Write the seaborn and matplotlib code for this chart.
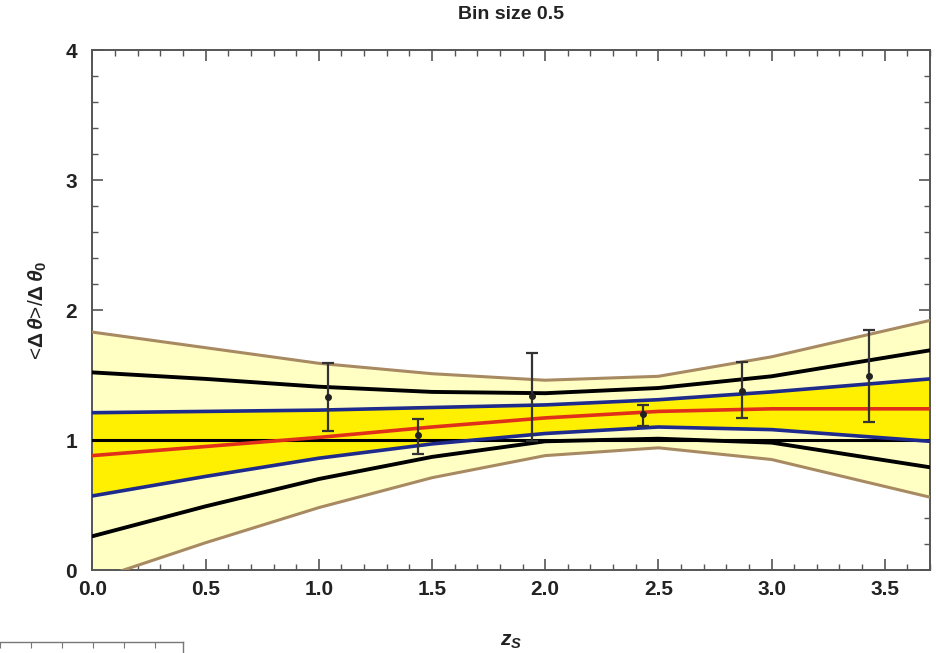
import numpy as np
import pandas as pd
import matplotlib
matplotlib.use("Agg")
import matplotlib.pyplot as plt
import seaborn as sns
from matplotlib.ticker import MultipleLocator

# ---- data ----
z_grid = [0.0, 0.5, 1.0, 1.5, 2.0, 2.5, 3.0, 3.7]
outer_upper = [1.83, 1.71, 1.59, 1.51, 1.46, 1.49, 1.64, 1.92]
outer_lower = [-0.08, 0.21, 0.48, 0.71, 0.88, 0.94, 0.85, 0.56]
black_upper = [1.52, 1.47, 1.41, 1.37, 1.36, 1.40, 1.49, 1.69]
black_lower = [0.26, 0.49, 0.70, 0.87, 0.99, 1.01, 0.98, 0.79]
blue_upper = [1.21, 1.22, 1.23, 1.25, 1.27, 1.31, 1.37, 1.47]
blue_lower = [0.57, 0.72, 0.86, 0.97, 1.05, 1.10, 1.08, 0.99]
red_curve = [0.88, 0.95, 1.02, 1.10, 1.17, 1.22, 1.24, 1.24]
unity = [1.0] * len(z_grid)

pt_z = [1.04, 1.44, 1.94, 2.43, 2.87, 3.43]
pt_val = [1.33, 1.04, 1.34, 1.20, 1.38, 1.49]
pt_hi = [1.59, 1.16, 1.67, 1.27, 1.60, 1.85]
pt_lo = [1.07, 0.89, 0.99, 1.11, 1.17, 1.14]

title = "Bin size 0.5"
x_ticks = [0.0, 0.5, 1.0, 1.5, 2.0, 2.5, 3.0, 3.5]
y_ticks = [0, 1, 2, 3, 4]

sns.set_style("ticks")
plt.rcParams['font.family'] = ['Liberation Sans', 'DejaVu Sans']
plt.rcParams['mathtext.fontset'] = 'custom'
plt.rcParams['mathtext.rm'] = 'Liberation Sans:bold'
plt.rcParams['mathtext.it'] = 'Liberation Sans:italic:bold'
plt.rcParams['mathtext.bf'] = 'Liberation Sans:bold'

fig = plt.figure(figsize=(9.36, 6.53), dpi=100)
ax = fig.add_axes([0.0988, 0.1271, 0.8948, 0.7963])

df = pd.DataFrame({
    "z": z_grid, "ou": outer_upper, "ol": outer_lower,
    "bu": black_upper, "bl": black_lower,
    "nu": blue_upper, "nl": blue_lower,
    "red": red_curve, "one": unity,
})

light = "#FFFFC4"
bright = "#FFEF00"
brown = "#A88A62"
blue = "#1E2A8C"
red = "#E0301A"

ax.fill_between(df["z"], df["ol"], df["ou"], color=light, lw=0, zorder=1)
ax.fill_between(df["z"], df["nl"], df["nu"], color=bright, lw=0, zorder=2)

sns.lineplot(data=df, x="z", y="ou", ax=ax, color=brown, lw=2.2, zorder=3)
sns.lineplot(data=df, x="z", y="ol", ax=ax, color=brown, lw=2.2, zorder=3)
sns.lineplot(data=df, x="z", y="bu", ax=ax, color="black", lw=2.8, zorder=4)
sns.lineplot(data=df, x="z", y="bl", ax=ax, color="black", lw=2.8, zorder=4)
sns.lineplot(data=df, x="z", y="one", ax=ax, color="black", lw=2.2, zorder=4)
sns.lineplot(data=df, x="z", y="nu", ax=ax, color=blue, lw=2.6, zorder=5)
sns.lineplot(data=df, x="z", y="nl", ax=ax, color=blue, lw=2.6, zorder=5)
sns.lineplot(data=df, x="z", y="red", ax=ax, color=red, lw=2.6, zorder=6)

yerr = np.array([np.array(pt_val) - np.array(pt_lo), np.array(pt_hi) - np.array(pt_val)])
ax.errorbar(pt_z, pt_val, yerr=yerr, fmt="o", ms=4, color="#222222",
            ecolor="#333333", elinewidth=1.6, capsize=4, capthick=1.6, zorder=7)

ax.set_xlim(0, 3.7)
ax.set_ylim(0, 4)
ax.set_xticks(x_ticks)
ax.set_xticklabels([f"{t:.1f}" for t in x_ticks])
ax.set_yticks(y_ticks)
ax.set_yticklabels([str(t) for t in y_ticks])
ax.xaxis.set_minor_locator(MultipleLocator(0.1))
ax.yaxis.set_minor_locator(MultipleLocator(0.2))
ax.tick_params(which="both", direction="in", top=True, right=True, color="#555555")
ax.tick_params(which="major", length=8, width=1.2, labelsize=15)
ax.tick_params(axis="x", which="major", pad=7)
ax.tick_params(axis="y", which="major", pad=11)
ax.tick_params(which="minor", length=4, width=1.0)
for lab in ax.get_xticklabels() + ax.get_yticklabels():
    lab.set_fontweight("bold")
    lab.set_color("#222222")
for s in ax.spines.values():
    s.set_color("#555555")
    s.set_linewidth(1.4)

ax.set_xlabel("$z_S$", fontsize=15, labelpad=24, color="#222222")
ax.set_ylabel(r"<$\Delta\,\theta$>/$\Delta\,\theta_0$", fontsize=15, labelpad=12, color="#222222")
ax.set_title(title, fontsize=14, fontweight="bold", pad=22, color="#222222")

# small ruler-like artifact at bottom-left
ax2 = fig.add_axes([-0.01, -0.02, 0.206, 0.037])
ax2.set_xlim(0, 6.2)
ax2.set_ylim(0, 1)
ax2.set_facecolor("none")
for side in ["left", "bottom"]:
    ax2.spines[side].set_visible(False)
for side in ["top", "right"]:
    ax2.spines[side].set_color("#777777")
    ax2.spines[side].set_linewidth(1.0)
ax2.set_xticks([0.3, 1.3, 2.3, 3.3, 4.3, 5.3])
ax2.tick_params(axis="x", direction="in", top=True, bottom=False, labelbottom=False,
                length=4, color="#777777")
ax2.set_yticks([])
ax2.set_xlabel("")
ax2.set_ylabel("")

fig.savefig("out.png", dpi=100)
